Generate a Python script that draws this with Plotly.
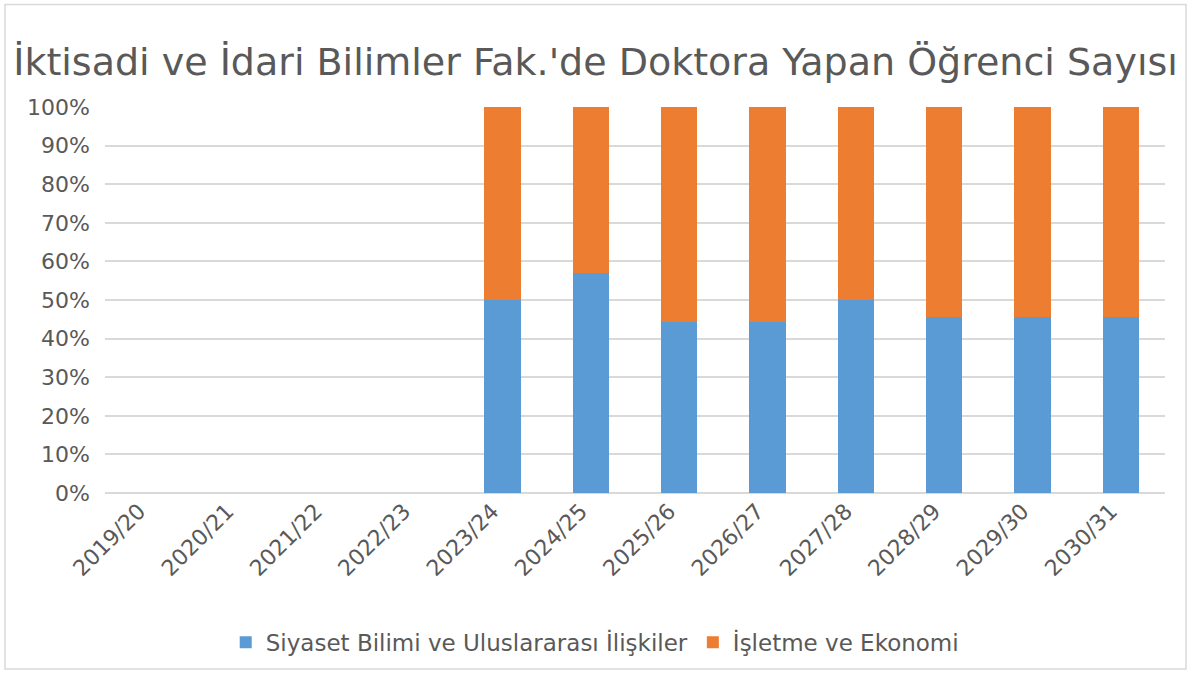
import plotly.graph_objects as go

years = ["2019/20", "2020/21", "2021/22", "2022/23", "2023/24", "2024/25",
         "2025/26", "2026/27", "2027/28", "2028/29", "2029/30", "2030/31"]
siyaset = [None, None, None, None, 50.0, 57.1, 44.4, 44.4, 50.0, 45.5, 45.5, 45.5]
isletme = [None, None, None, None, 50.0, 42.9, 55.6, 55.6, 50.0, 54.5, 54.5, 54.5]
y_ticks = [0, 10, 20, 30, 40, 50, 60, 70, 80, 90, 100]
y_tick_labels = [f"{v}%" for v in y_ticks]

FONT = "DejaVu Sans"
TEXT = "#595959"

fig = go.Figure()
fig.add_trace(go.Bar(x=years, y=siyaset, name="Siyaset Bilimi ve Uluslararası İlişkiler",
                     marker_color="#5b9bd5", marker_line_width=0))
fig.add_trace(go.Bar(x=years, y=isletme, name="İşletme ve Ekonomi",
                     marker_color="#ed7d31", marker_line_width=0))

fig.update_layout(
    width=1191, height=676,
    barmode="stack", bargap=0.59,
    paper_bgcolor="white", plot_bgcolor="white",
    margin=dict(l=105, r=26, t=107, b=181),
    font=dict(family=FONT, color=TEXT, size=22),
    title=dict(text="İktisadi ve İdari Bilimler Fak.'de Doktora Yapan Öğrenci Sayısı",
               x=0.5, xanchor="center", y=0.908, yanchor="middle",
               font=dict(size=38, color=TEXT, family=FONT)),
    legend=dict(orientation="h", x=0.462, xanchor="center", y=-0.387, yanchor="middle",
                font=dict(size=23, color=TEXT), traceorder="normal",
                itemwidth=30),
    showlegend=True,
)
fig.update_xaxes(tickangle=-45, showgrid=False, showline=False, ticks="",
                 ticklabelshift=-10,
                 tickfont=dict(size=22, color=TEXT))
fig.update_yaxes(range=[0, 100], tickvals=y_ticks, ticktext=y_tick_labels,
                 showgrid=True, gridcolor="#d9d9d9", gridwidth=1.5,
                 zeroline=True, zerolinecolor="#d9d9d9", zerolinewidth=1.5,
                 showline=False, ticks="", ticklabelstandoff=14,
                 tickfont=dict(size=22, color=TEXT))

# chart frame
fig.add_shape(type="rect", xref="paper", yref="paper",
              x0=-100/1060, x1=1+21/1060, y0=-177/388, y1=1+103/388,
              line=dict(color="#d9d9d9", width=1.5), fillcolor="rgba(0,0,0,0)",
              layer="below")

fig.write_html("out.html")
